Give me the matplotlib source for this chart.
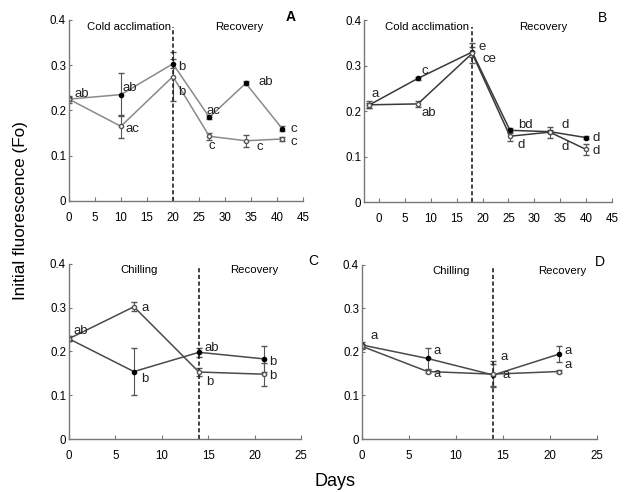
import numpy as np
import matplotlib.pyplot as plt

plt.rcParams['font.family'] = ['Liberation Sans', 'DejaVu Sans']

# Panel A
a_days = [0, 10, 20, 27, 34, 41]
a_filled = [0.225, 0.235, 0.303, 0.185, 0.260, 0.160]
a_filled_err = [0.005, 0.048, 0.010, 0.004, 0.004, 0.006]
a_open = [0.225, 0.165, 0.275, 0.143, 0.133, 0.137]
a_open_err = [0.008, 0.025, 0.055, 0.008, 0.013, 0.004]
a_labels = [(1, 0.236, 'ab'), (10.3, 0.25, 'ab'), (10.8, 0.158, 'ac'), (21, 0.296, 'b'),
            (21, 0.240, 'b'), (26.4, 0.199, 'ac'), (36.5, 0.263, 'ab'), (42.6, 0.159, 'c'),
            (42.6, 0.131, 'c'), (26.8, 0.121, 'c'), (36, 0.12, 'c')]

# Panel B
b_days = [-2, 7.5, 18, 25.3, 33, 40]
b_filled = [0.213, 0.272, 0.330, 0.158, 0.155, 0.142]
b_filled_err = [0.006, 0.004, 0.010, 0.006, 0.004, 0.004]
b_open = [0.214, 0.216, 0.327, 0.145, 0.154, 0.116]
b_open_err = [0.008, 0.006, 0.022, 0.010, 0.012, 0.012]
b_labels = [(-1.5, 0.238, 'a'), (8.2, 0.288, 'c'), (8.3, 0.196, 'ab'), (19.2, 0.340, 'e'),
            (20.0, 0.315, 'ce'), (26.8, 0.170, 'bd'), (26.8, 0.126, 'd'), (35.3, 0.170, 'd'),
            (35.3, 0.122, 'd'), (41.3, 0.142, 'd'), (41.3, 0.112, 'd')]

# Panel C
c_days = [0, 7, 14, 21]
c_filled = [0.229, 0.154, 0.198, 0.183]
c_filled_err = [0.006, 0.053, 0.010, 0.030]
c_open = [0.229, 0.302, 0.153, 0.148]
c_open_err = [0.006, 0.010, 0.010, 0.026]
c_labels = [(0.5, 0.246, 'ab'), (7.8, 0.300, 'a'), (7.8, 0.136, 'b'), (14.6, 0.208, 'ab'),
            (14.8, 0.131, 'b'), (21.6, 0.177, 'b'), (21.6, 0.145, 'b')]

# Panel D
d_days = [0, 7, 14, 21]
d_filled = [0.216, 0.185, 0.147, 0.195]
d_filled_err = [0.006, 0.025, 0.025, 0.018]
d_open = [0.213, 0.155, 0.149, 0.155]
d_open_err = [0.006, 0.004, 0.030, 0.004]
d_labels = [(0.9, 0.236, 'a'), (7.6, 0.202, 'a'), (7.6, 0.150, 'a'), (14.8, 0.188, 'a'),
            (15.0, 0.147, 'a'), (21.6, 0.202, 'a'), (21.6, 0.170, 'a')]

panels = [
    dict(rect=[0.110, 0.5915, 0.374, 0.368], days=a_days, f=a_filled, fe=a_filled_err,
         o=a_open, oe=a_open_err, labels=a_labels, xlim=(0, 45), xt=range(0, 46, 5),
         split=20, left=('Cold acclimation', 11.5), right=('Recovery', 32.7),
         letter='A', lw_color='#8a8a8a', bold=True, lx=0.465),
    dict(rect=[0.5815, 0.589, 0.396, 0.370], days=b_days, f=b_filled, fe=b_filled_err,
         o=b_open, oe=b_open_err, labels=b_labels, xlim=(-2.9, 45), xt=range(0, 46, 5),
         split=18, left=('Cold acclimation', 9.3), right=('Recovery', 31.7),
         letter='B', lw_color='#3a3a3a', bold=False, lx=0.962),
    dict(rect=[0.110, 0.1077, 0.371, 0.356], days=c_days, f=c_filled, fe=c_filled_err,
         o=c_open, oe=c_open_err, labels=c_labels, xlim=(0, 25), xt=range(0, 26, 5),
         split=14, left=('Chilling', 7.6), right=('Recovery', 20),
         letter='C', lw_color='#4a4a4a', bold=False, lx=0.500),
    dict(rect=[0.578, 0.1077, 0.375, 0.354], days=d_days, f=d_filled, fe=d_filled_err,
         o=d_open, oe=d_open_err, labels=d_labels, xlim=(0, 25), xt=range(0, 26, 5),
         split=14, left=('Chilling', 9.5), right=('Recovery', 21.3),
         letter='D', lw_color='#4a4a4a', bold=False, lx=0.958),
]

fig = plt.figure(figsize=(6.26, 4.92), dpi=100)

for p in panels:
    ax = fig.add_axes(p['rect'])
    c = p['lw_color']
    ax.errorbar(p['days'], p['f'], yerr=p['fe'], color=c, lw=1.1, marker='o', ms=3,
                mfc='black', mec='black', ecolor='#555555', elinewidth=0.8, capsize=2)
    ax.errorbar(p['days'], p['o'], yerr=p['oe'], color=c, lw=1.1, marker='o', ms=3,
                mfc='white', mec='#555555', ecolor='#555555', elinewidth=0.8, capsize=2)
    ax.axvline(p['split'], ymin=0, ymax=0.96 if p['letter'] in 'AB' else 0.985,
               color='#222222', ls=(0, (2.5, 1.5)), lw=1.2)
    for x, y, t in p['labels']:
        ax.text(x, y, t, fontsize=9.5, color='#222222', ha='left', va='center')
    ax.text(p['left'][1], 0.385, p['left'][0], fontsize=8.2, ha='center', va='center')
    ax.text(p['right'][1], 0.385, p['right'][0], fontsize=8.2, ha='center', va='center')
    fig.text(p['lx'], p['rect'][1] + p['rect'][3] + 0.005, p['letter'], fontsize=10,
             fontweight='bold' if p['bold'] else 'normal', ha='center', va='center')
    ax.set_xlim(*p['xlim'])
    ax.set_ylim(0, 0.4)
    ax.set_xticks(list(p['xt']))
    ax.set_yticks([0, 0.1, 0.2, 0.3, 0.4])
    ax.set_yticklabels(['0', '0.1', '0.2', '0.3', '0.4'])
    for s in ['top', 'right']:
        ax.spines[s].set_visible(False)
    for s in ['left', 'bottom']:
        ax.spines[s].set_color('#777777')
        ax.spines[s].set_linewidth(1.0)
    ax.tick_params(axis='x', direction='in', length=3, pad=8, labelsize=8.3, color='#777777')
    ax.tick_params(axis='y', direction='in', length=2, pad=2, labelsize=8.3, color='#777777')

fig.text(0.032, 0.573, 'Initial fluorescence (Fo)', rotation=90, fontsize=12.3,
         ha='center', va='center')
fig.text(0.535, 0.022, 'Days', fontsize=13, ha='center', va='center')

fig.savefig('out.png', dpi=100)
